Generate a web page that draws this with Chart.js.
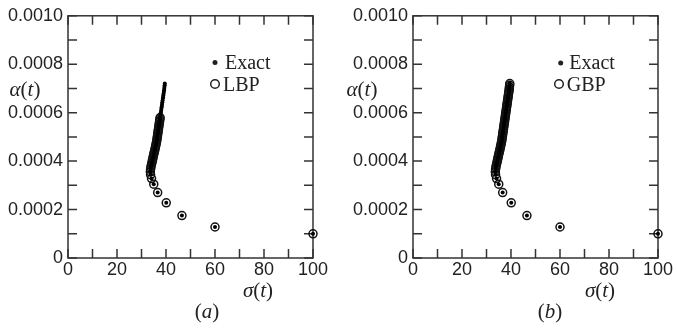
<!DOCTYPE html>
<html>
<head>
<meta charset="utf-8">
<script src="https://cdn.jsdelivr.net/npm/chart.js@4"></script>
<style>
  body { margin: 0; background: #fff; }
  #wrap { position: relative; width: 677px; height: 330px; overflow: hidden; }
  canvas { position: absolute; top: 0; }
  .lbl {
    position: absolute;
    font-family: "Liberation Serif", "DejaVu Serif", serif;
    font-size: 21px;
    color: #222;
    white-space: nowrap;
    transform: translate(-50%, -50%);
    line-height: 1;
  }
</style>
</head>
<body>
<div id="wrap">
  <canvas id="chart-a" width="338" height="330" style="left:0"></canvas>
  <canvas id="chart-b" width="338" height="330" style="left:339px"></canvas>
  <div class="lbl" style="left:25px;top:89px"><i>α</i>(<i>t</i>)</div>
  <div class="lbl" style="left:258px;top:290px"><i>σ</i>(<i>t</i>)</div>
  <div class="lbl" style="left:207px;top:311px">(<i>a</i>)</div>
  <div class="lbl" style="left:362px;top:89px"><i>α</i>(<i>t</i>)</div>
  <div class="lbl" style="left:600px;top:290px"><i>σ</i>(<i>t</i>)</div>
  <div class="lbl" style="left:550px;top:311px">(<i>b</i>)</div>
</div>
<script>
// sigma(t) / alpha(t) trajectory
const sigmaExact = [
  100, 60, 46.5, 40.1, 36.6, 35.0, 34.1, 33.7, 33.6, 33.7,
  33.85, 34.0, 34.2, 34.35, 34.5, 34.65, 34.8, 34.95, 35.1, 35.3,
  35.45, 35.6, 35.75, 35.9, 36.05, 36.2, 36.3, 36.4, 36.5, 36.6,
  36.7, 36.8, 36.9, 37.0, 37.1, 37.2, 37.3, 37.4, 37.5, 37.6,
  37.7, 37.8, 37.9, 38.0, 38.1, 38.2, 38.3, 38.4, 38.5, 38.6,
  38.7, 38.8, 38.9, 39.0, 39.1, 39.2, 39.3, 39.35, 39.45, 39.5
];
const alphaExact = [
  0.000100, 0.000128, 0.000175, 0.000228, 0.000270, 0.000305, 0.000328, 0.000344, 0.000356, 0.000366,
  0.000375, 0.000383, 0.000391, 0.000398, 0.000405, 0.000412, 0.000419, 0.000426, 0.000433, 0.000440,
  0.000447, 0.000454, 0.000461, 0.000468, 0.000475, 0.000482, 0.000489, 0.000496, 0.000503, 0.000510,
  0.000517, 0.000524, 0.000531, 0.000538, 0.000545, 0.000552, 0.000559, 0.000566, 0.000573, 0.000580,
  0.000587, 0.000594, 0.000601, 0.000608, 0.000615, 0.000622, 0.000629, 0.000636, 0.000643, 0.000650,
  0.000657, 0.000664, 0.000671, 0.000678, 0.000685, 0.000692, 0.000699, 0.000706, 0.000713, 0.000720
];
// LBP stops at alpha ~ 0.00058, GBP follows the whole exact path
const lbpCount = 40;
const gbpCount = 60;

const INK = "#222";
const FRAME = "#333";
const TICK_FONT = { family: '"Liberation Sans", sans-serif', size: 18 };

function pts(n) {
  const out = [];
  for (let i = 0; i < n; i++) out.push({ x: sigmaExact[i], y: alphaExact[i] });
  return out;
}

// frame box + inward ticks on all four sides
const framePlugin = {
  id: "frame",
  beforeDatasetsDraw(chart) {
    const { ctx, chartArea: a, scales } = chart;
    const len = 9;
    ctx.save();
    ctx.strokeStyle = FRAME;
    ctx.lineWidth = 1.5;
    ctx.strokeRect(a.left, a.top, a.right - a.left, a.bottom - a.top);
    ctx.beginPath();
    scales.x.ticks.forEach((t) => {
      const px = scales.x.getPixelForValue(t.value);
      ctx.moveTo(px, a.bottom); ctx.lineTo(px, a.bottom - len);
      ctx.moveTo(px, a.top); ctx.lineTo(px, a.top + len);
    });
    scales.y.ticks.forEach((t) => {
      const py = scales.y.getPixelForValue(t.value);
      ctx.moveTo(a.left, py); ctx.lineTo(a.left + len, py);
      ctx.moveTo(a.right, py); ctx.lineTo(a.right - len, py);
    });
    ctx.stroke();
    ctx.restore();
  },
  afterDraw(chart) {
    const lg = chart.options.plugins.frame;
    const ctx = chart.ctx;
    ctx.save();
    ctx.fillStyle = INK;
    ctx.strokeStyle = INK;
    ctx.beginPath();
    ctx.arc(lg.dot[0], lg.dot[1], 2.5, 0, Math.PI * 2);
    ctx.fill();
    ctx.lineWidth = 1.5;
    ctx.beginPath();
    ctx.arc(lg.ring[0], lg.ring[1], 4.3, 0, Math.PI * 2);
    ctx.stroke();
    ctx.font = '20px "Liberation Serif", serif';
    ctx.textBaseline = "alphabetic";
    ctx.fillText("Exact", lg.dotText[0], lg.dotText[1]);
    ctx.fillText(lg.name, lg.ringText[0], lg.ringText[1]);
    ctx.restore();
  },
};

function makePanel(id, name, count, leftW, rightPad, lg) {
  new Chart(document.getElementById(id), {
    type: "scatter",
    data: {
      datasets: [
        {
          label: "Exact",
          data: pts(sigmaExact.length),
          pointRadius: 2,
          pointBackgroundColor: "#000",
          pointBorderWidth: 0,
          clip: false,
        },
        {
          label: name,
          data: pts(count),
          pointRadius: 4,
          pointBorderWidth: 1.5,
          pointBorderColor: "#111",
          pointBackgroundColor: "rgba(0,0,0,0)",
          clip: false,
        },
      ],
    },
    options: {
      responsive: false,
      animation: false,
      layout: { padding: { top: 14, right: rightPad, bottom: 0, left: 0 } },
      plugins: {
        legend: { display: false },
        tooltip: { enabled: false },
        frame: Object.assign({ name }, lg),
      },
      scales: {
        x: {
          type: "linear",
          min: 0,
          max: 100,
          grid: { display: false, drawTicks: false },
          border: { display: false },
          afterFit: (s) => { s.height = 72; },
          ticks: {
            stepSize: 10,
            autoSkip: false,
            maxRotation: 0,
            padding: 1,
            color: INK,
            font: TICK_FONT,
            callback: (v) => (v % 20 === 0 ? String(v) : ""),
          },
        },
        y: {
          type: "linear",
          min: 0,
          max: 0.001,
          grid: { display: false, drawTicks: false },
          border: { display: false },
          afterFit: (s) => { s.width = leftW; },
          ticks: {
            stepSize: 0.0001,
            autoSkip: false,
            padding: 5,
            color: INK,
            font: TICK_FONT,
            callback: (v) => {
              const k = Math.round(v * 1e4);
              if (k % 2) return "";
              return k === 0 ? "0" : (k / 1e4).toFixed(4);
            },
          },
        },
      },
    },
    plugins: [framePlugin],
  });
}

makePanel("chart-a", "LBP", lbpCount, 68, 25, {
  dot: [215, 62.5], dotText: [225, 68.5],
  ring: [215, 84], ringText: [223, 90.5],
});
makePanel("chart-b", "GBP", gbpCount, 74, 19, {
  dot: [221.7, 63], dotText: [230.3, 68.5],
  ring: [220, 84], ringText: [227.7, 90.5],
});
</script>
</body>
</html>
